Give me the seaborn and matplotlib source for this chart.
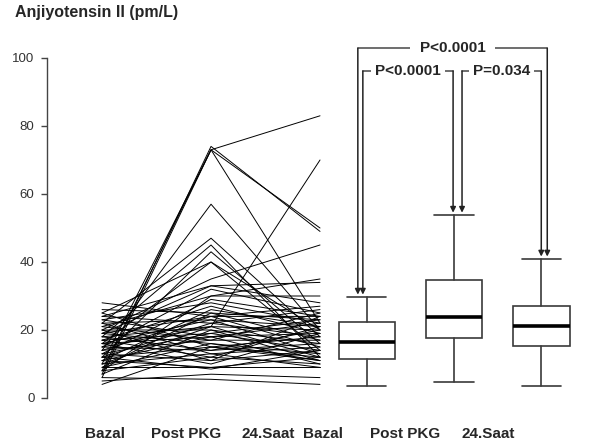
import pandas as pd
import matplotlib.pyplot as plt
import seaborn as sns

sns.set_theme(style='ticks')
FUENTE = ['Liberation Sans', 'DejaVu Sans']
plt.rcParams['font.family'] = FUENTE

# --- Datos ---
zamanlar = ['Bazal', 'Post PKG', '24.Saat']

# valores individuales (uno por paciente)
bazal = [8, 10, 7, 6, 14, 22, 18, 12, 25, 16, 10, 20, 8, 24, 19, 15, 21, 13, 23, 17,
         11, 26, 9, 19, 14, 22, 16, 12, 24, 18, 15, 7, 20, 13, 17, 23, 11, 16, 21, 14,
         9, 19, 12, 25, 15, 18, 10, 22, 17, 8, 13, 20, 16, 11, 12, 9, 6, 5, 4, 28]
post_pkg = [73, 73, 74, 73, 57, 47, 45, 43, 40, 40, 21, 35, 30, 33, 33, 32, 30, 29, 28, 27,
            26, 25, 25, 24, 24, 23, 23, 22, 22, 21, 21, 20, 20, 19, 19, 18, 18, 18, 17, 17,
            16, 16, 15, 15, 14, 14, 13, 13, 12, 12, 11, 11, 10, 9, 8.5, 9, 5.5, 7, 15, 24]
saat24 = [83, 50, 49, 22, 20, 18, 12, 16, 20, 14, 70, 45, 35, 34, 28, 25, 30, 24, 22, 19,
          21, 23, 17, 24, 15, 13, 21, 26, 18, 12, 20, 16, 11, 23, 14, 19, 22, 10, 17, 25,
          13, 11, 18, 12, 20, 16, 9, 15, 21, 10, 14, 24, 19, 12, 14, 9, 4, 6, 11, 27]

# estadisticos de los boxplots (min, Q1, mediana, Q3, max)
box_min = [3.5, 4.7, 3.5]
box_q1 = [11.5, 17.6, 15.3]
box_med = [16.5, 23.8, 21.2]
box_q3 = [22.4, 34.7, 27.0]
box_max = [29.7, 53.8, 40.9]

p_textos = ['P<0.0001', 'P<0.0001', 'P=0.034']

# --- Layout ---
pos_lineas = [0, 1, 2]
pos_cajas = [2.43, 3.23, 4.03]
pos_etiquetas = [0.03, 0.77, 1.52, 2.03, 2.78, 3.54]

filas = []
for i, vals in enumerate(zip(bazal, post_pkg, saat24)):
    for p, v in zip(pos_lineas, vals):
        filas.append({'sujeto': i, 'pos': p, 'valor': v})
df = pd.DataFrame(filas)

fig = plt.figure(figsize=(5.89, 4.43), dpi=100)
ax = fig.add_axes([47 / 589, 45 / 443, 1 - 47 / 589, 340 / 443])

sns.lineplot(data=df, x='pos', y='valor', units='sujeto', estimator=None,
             color='black', linewidth=0.7, ax=ax, legend=False)

stats = []
for k in range(3):
    stats.append({'whislo': box_min[k], 'q1': box_q1[k], 'med': box_med[k],
                  'q3': box_q3[k], 'whishi': box_max[k], 'fliers': []})
ax.bxp(stats, positions=pos_cajas, widths=0.52, capwidths=0.36, showfliers=False,
       patch_artist=True,
       boxprops=dict(facecolor='white', edgecolor='#3a3a3a', linewidth=1.2),
       medianprops=dict(color='black', linewidth=2.6),
       whiskerprops=dict(color='#3a3a3a', linewidth=1.2),
       capprops=dict(color='#3a3a3a', linewidth=1.2))

# corchetes con flechas: (caja_i, caja_j, dx_i, dx_j, altura, texto, margen)
corchetes = [(0, 2, -0.083, 0.055, 102.9, p_textos[0], 7),
             (0, 1, -0.037, -0.009, 96.2, p_textos[1], 3),
             (1, 2, 0.073, 0.0, 96.2, p_textos[2], 3)]
for i, j, dxi, dxj, h, txt, margen in corchetes:
    xi = pos_cajas[i] + dxi
    xj = pos_cajas[j] + dxj
    ax.plot([xi, xj], [h, h], color='#555555', lw=1.2, clip_on=False)
    for x, k in [(xi, i), (xj, j)]:
        ax.annotate('', xy=(x, box_max[k] + 0.7), xytext=(x, h),
                    arrowprops=dict(arrowstyle='-|>', color='#222222', lw=1.1,
                                    shrinkA=0, shrinkB=0, mutation_scale=8),
                    annotation_clip=False)
    ax.text((xi + xj) / 2, h, txt, ha='center', va='center', fontsize=11,
            fontweight='bold', clip_on=False,
            bbox=dict(facecolor='white', edgecolor='none', pad=margen))

ax.set_xlim(-0.505, 4.468)
ax.set_ylim(0, 100)
ax.set_yticks([0, 20, 40, 60, 80, 100])
ax.set_xticks(pos_etiquetas, zamanlar + zamanlar)
ax.tick_params(axis='x', length=0, pad=21, labelsize=11)
for lab in ax.get_xticklabels():
    lab.set_fontweight('bold')
ax.tick_params(axis='y', direction='out', length=4, width=1, color='#444444',
               labelsize=9.5, labelcolor='#333333', pad=5)
ax.set_xlabel('')
ax.set_ylabel('')
for s in ['top', 'right', 'bottom']:
    ax.spines[s].set_visible(False)
ax.spines['left'].set_color('#444444')
ax.spines['left'].set_linewidth(1)

fig.text(15 / 589, 1 - 13 / 443, 'Anjiyotensin II (pm/L)', ha='left', va='center',
         fontsize=11.5, fontweight='bold')

fig.savefig('out.png', dpi=100)
